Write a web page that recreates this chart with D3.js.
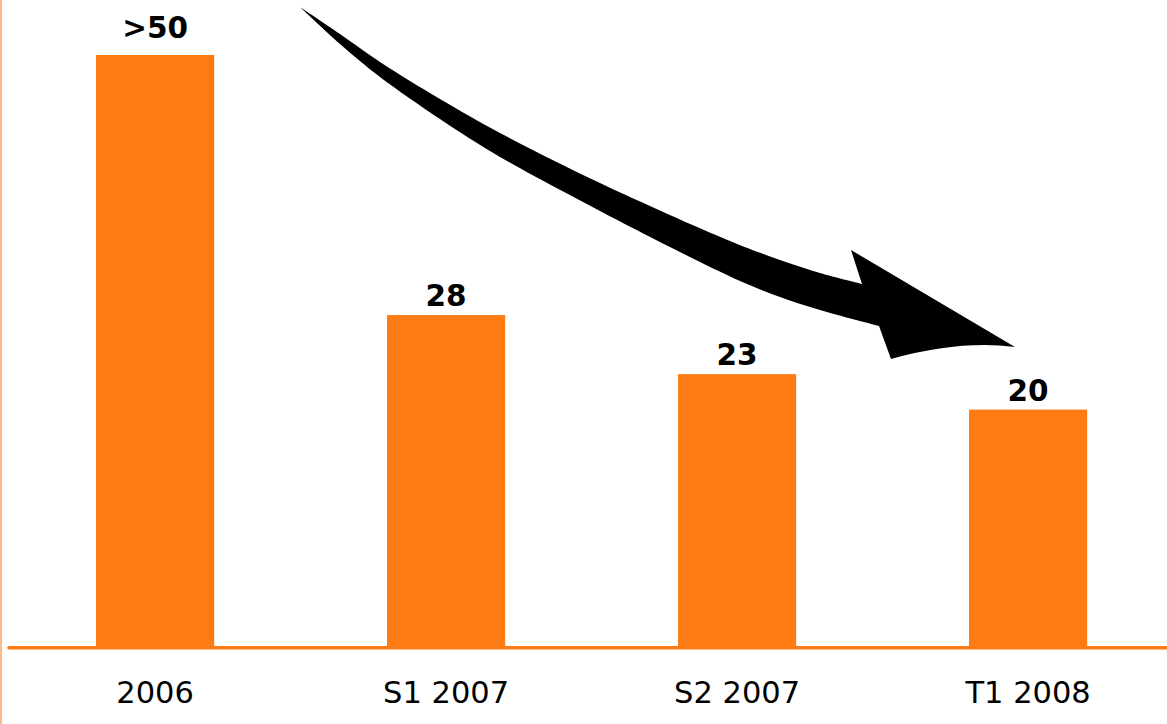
<!DOCTYPE html>
<html><head><meta charset="utf-8">
<script src="https://cdn.jsdelivr.net/npm/d3@7/dist/d3.min.js"></script>
<style>html,body{margin:0;padding:0;background:#fff;}svg{display:block;}</style>
</head><body>
<svg id="c" width="1167" height="724"></svg>
<script>
const categories = ["2006", "S1 2007", "S2 2007", "T1 2008"];
const values = [50, 28, 23, 20];
const valueLabels = [">50", "28", "23", "20"];

const W = 1167, H = 724;
const svg = d3.select("#c");
const orange = "#fe7b13";

const x = d3.scaleBand().domain(categories).range([9.6, 1173.6]).paddingInner(0.594).paddingOuter(0.297);
const y = d3.scaleLinear().domain([0, 50]).range([646, 55]);

// left edge line
svg.append("line").attr("x1", 1).attr("x2", 1).attr("y1", 0).attr("y2", H)
  .attr("stroke", "#ffb889").attr("stroke-width", 2);

// bars
svg.selectAll("rect.bar").data(values).join("rect").attr("class", "bar")
  .attr("x", (d, i) => x(categories[i]))
  .attr("width", x.bandwidth())
  .attr("y", d => y(d))
  .attr("height", d => y(0) - y(d))
  .attr("fill", orange);

// baseline
svg.append("line").attr("x1", 9).attr("x2", W).attr("y1", y(0) + 1.7).attr("y2", y(0) + 1.7)
  .attr("stroke", orange).attr("stroke-width", 3.5).attr("stroke-linecap", "round");

// value labels
svg.selectAll("text.val").data(values).join("text").attr("class", "val")
  .attr("x", (d, i) => x(categories[i]) + x.bandwidth() / 2)
  .attr("y", d => y(d) - (d >= y.domain()[1] ? 17 : 9))
  .attr("text-anchor", "middle")
  .attr("font-family", "DejaVu Sans")
  .attr("font-weight", "bold")
  .attr("font-size", 29.5)
  .attr("fill", "#000")
  .text((d, i) => valueLabels[i]);

// axis labels
const xAxis = d3.axisBottom(x).tickSize(0).tickPadding(0);
const gx = svg.append("g").attr("transform", `translate(0,${y(0)})`).call(xAxis);
gx.select(".domain").remove();
gx.selectAll("text").attr("font-family", "DejaVu Sans").attr("font-size", 30.5)
  .attr("fill", "#000").attr("dy", 0).attr("y", 57);

// curved arrow annotation
const upper = [[300,7],[340,34],[380,62],[440,99],[500,133],[600,183],[730,241],[780,260],[820,273],[862,284]];
const lower = [[879,326],[820,310],[780,297],[740,281],[670,247],[600,211],[500,157],[440,119],[380,77],[340,44],[300,7]];
const edge = d3.line().curve(d3.curveCatmullRom.alpha(0.5));
const head = "L851,250 L1015,347 Q960,340 891,359 L879,326";
const d = edge(upper) + head + edge(lower).replace(/^M/, "L") + "Z";
svg.append("path").attr("d", d).attr("fill", "#000");
</script>
</body></html>
